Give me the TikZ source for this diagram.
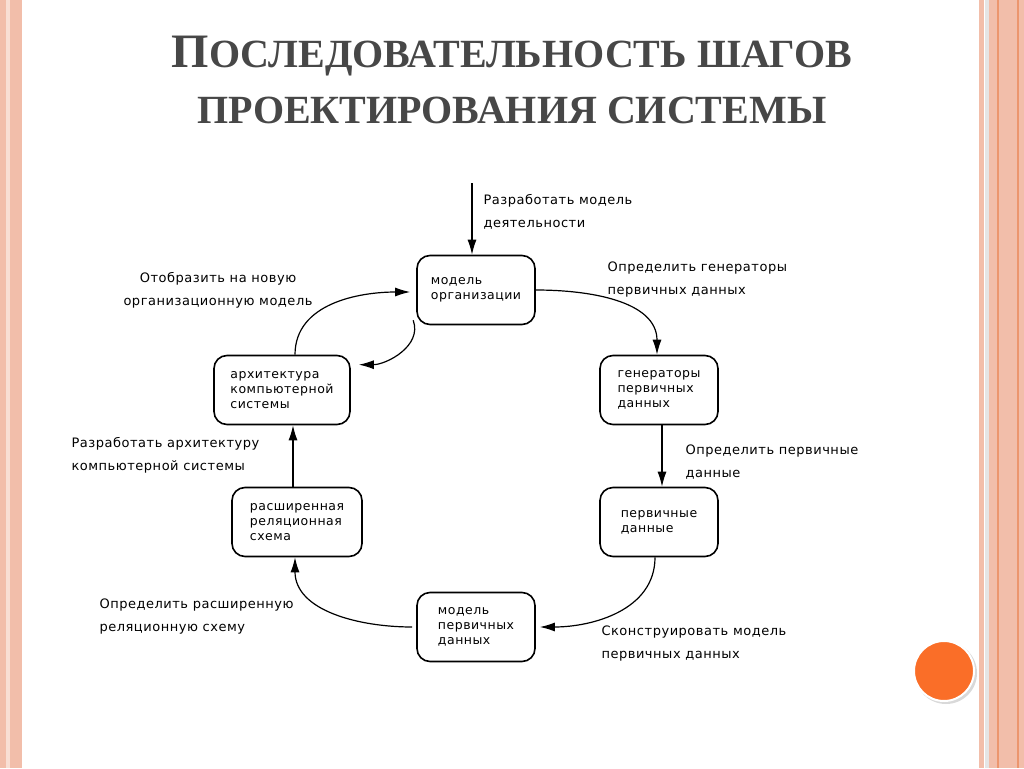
\documentclass[tikz,border=0pt]{standalone}
\usepackage{fontspec}
\setmainfont{Liberation Serif}
\newfontfamily\lbl{DejaVu Sans}[LetterSpace=4]
\usetikzlibrary{arrows.meta}
\definecolor{pinkA}{RGB}{242,190,170}
\definecolor{pinkB}{RGB}{236,150,110}
\definecolor{dot}{RGB}{250,110,40}
\begin{document}
\begin{tikzpicture}[x=1pt,y=-1pt,
  box/.style={draw,line width=1.6pt,rounded corners=13pt,minimum width=118pt,minimum height=69pt,align=left,font=\lbl\fontsize{12.5}{15}\selectfont},
  lab/.style={align=left,anchor=west,font=\lbl\fontsize{13}{23}\selectfont},
  con/.style={line width=1.2pt,-{Latex[length=15pt,width=9pt]}}]
\useasboundingbox (0,0) rectangle (1024,768);
\fill[white] (0,0) rectangle (1024,768);
% borders
\fill[pinkA] (0,0) rectangle (22,768);
\fill[pinkA!50] (6,0) rectangle (10,768);
\fill[pinkA] (979,0) rectangle (984,768);
\fill[pinkA] (989,0) rectangle (1024,768);
\fill[gray!20] (985,0) rectangle (989,768);
\fill[pinkB] (997,0) rectangle (999,768);
\fill[pinkB] (1017,0) rectangle (1019,768);
% orange dot
\fill[black!15] (946,673) circle (31);
\fill[dot, draw=white, line width=2pt] (944,671) circle (30);
% title
\node[font=\bfseries\fontsize{48}{56}\selectfont, text=black!72, align=center] (title) at (512,80)
 {П{\fontsize{40}{56}\selectfont ОСЛЕДОВАТЕЛЬНОСТЬ ШАГОВ}\\{\fontsize{40}{56}\selectfont ПРОЕКТИРОВАНИЯ СИСТЕМЫ}};
% boxes
\node[box] (org) at (476,290) {модель\\организации};
\node[box] (gen) at (659,390) {генераторы\\первичных\\данных};
\node[box] (pd) at (659,522) {первичные\\данные};
\node[box] (mpd) at (476,627) {модель\\первичных\\данных};
\node[box,minimum width=130pt] (ext) at (297,522) {расширенная\\реляционная\\схема};
\node[box,minimum width=136pt] (arch) at (282,390) {архитектура\\компьютерной\\системы};
% connectors
\coordinate (start) at (472,183);
\draw[con] (start) -- (org.north -| start);
\draw[con] (org.east) to[out=0,in=90] ([xshift=-2pt]gen.north);
\draw[con] ([xshift=3pt]gen.south) -- ([xshift=3pt]pd.north);
\draw[con] ([xshift=-4pt]pd.south) to[out=-90,in=0] ([xshift=4pt]mpd.east);
\draw[con] ([xshift=-4pt]mpd.west) to[out=180,in=-90] ([xshift=-2pt]ext.south);
\draw[con] ([xshift=-4pt]ext.north) -- ([xshift=11pt]arch.south);
\draw[con] ([xshift=13pt]arch.north) to[out=90,in=180] ([xshift=-6pt,yshift=-2pt]org.west);
\draw[con] ([xshift=-3pt,yshift=5pt]org.south west) to[out=-70,in=0] ([xshift=8pt,yshift=-10pt]arch.north east);
% labels
\node[lab] (l1) at (480,212) {Разработать модель\\деятельности};
\node[lab] (l2) at (604,280) {Определить генераторы\\первичных данных};
\node[lab] (l3) at (682,462) {Определить первичные\\данные};
\node[lab] (l4) at (598,644) {Сконструировать модель\\первичных данных};
\node[lab] (l5) at (96,617) {Определить расширенную\\реляционную схему};
\node[lab] (l6) at (68,455) {Разработать архитектуру\\компьютерной системы};
\node[lab,align=center,anchor=center] (l7) at (218,290) {Отобразить на новую\\организационную модель};
\end{tikzpicture}
\end{document}
